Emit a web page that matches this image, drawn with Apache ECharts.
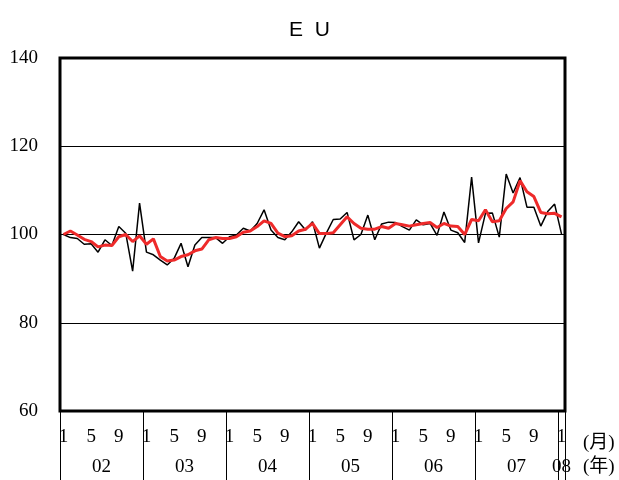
<!DOCTYPE html>
<html><head><meta charset="utf-8">
<script src="https://cdn.jsdelivr.net/npm/echarts@6/dist/echarts.min.js"></script>
<style>html,body{margin:0;padding:0;background:#fff}#c{width:619px;height:480px}</style>
</head><body><div id="c"></div>
<script>
const years = ['02','03','04','05','06','07','08'];
const monthTickLabels = [1, 5, 9];
const categories = [];
years.forEach(function (y, yi) {
  const n = yi === years.length - 1 ? 1 : 12;
  for (let m = 1; m <= n; m++) categories.push(y + '/' + m);
});
const monthly = [
  100.0, 99.3, 99.1, 97.8, 97.9, 96.0, 98.8, 97.5, 101.8, 100.3, 91.7, 107.1,
  96.0, 95.4, 94.2, 93.1, 94.6, 98.0, 92.7, 97.6, 99.3, 99.3, 99.3, 98.0,
  99.5, 99.9, 101.4, 100.8, 102.5, 105.6, 101.0, 99.3, 98.8, 100.6, 102.9, 101.0,
  102.9, 96.9, 100.3, 103.4, 103.5, 105.0, 98.8, 100.0, 104.4, 98.8, 102.4, 102.8,
  102.7, 101.8, 101.0, 103.3, 102.2, 102.5, 99.8, 105.1, 101.0, 100.4, 98.2, 113.0,
  98.1, 104.8, 104.9, 99.4, 113.7, 109.4, 112.9, 106.2, 106.2, 101.9, 105.2, 106.9,
  100.1
];
const trend = [
  100.0, 100.8, 99.9, 98.9, 98.4, 97.2, 97.6, 97.5, 99.5, 100.0, 98.4, 99.7,
  97.8, 99.0, 95.0, 94.0, 94.2, 95.0, 95.4, 96.3, 96.7, 98.8, 99.3, 99.1,
  99.1, 99.5, 100.5, 100.8, 101.8, 103.1, 102.5, 100.3, 99.5, 99.7, 100.8, 101.2,
  102.5, 100.2, 100.2, 100.4, 102.2, 104.0, 102.5, 101.4, 101.2, 101.2, 101.8, 101.4,
  102.5, 102.2, 101.9, 102.2, 102.5, 102.7, 101.6, 102.5, 101.9, 101.8, 100.0, 103.4,
  103.1, 105.6, 102.9, 103.1, 105.9, 107.4, 112.2, 109.7, 108.6, 105.0, 104.7, 104.8,
  104.0
];
const yMin = 60, yMax = 140, yStep = 20;

const serif = "'Liberation Serif', 'DejaVu Serif', 'Noto Sans CJK JP', serif";
const fs = 19;
const nameAxis = function (name, offset) {
  return {
    type: 'category', data: categories, boundaryGap: true, position: 'bottom', offset: offset,
    axisLine: {show: false}, axisTick: {show: false}, axisLabel: {show: false}, splitLine: {show: false},
    name: name, nameLocation: 'end', nameGap: 18,
    nameTextStyle: {fontSize: fs, color: '#000', fontFamily: serif, verticalAlign: 'middle'}
  };
};
const chart = echarts.init(document.getElementById('c'), null, {renderer: 'canvas'});
chart.setOption({
  animation: false,
  title: {
    text: 'E  U', left: 'center', top: 15,
    textStyle: {fontSize: 21, fontWeight: 'normal', color: '#000', fontFamily: "'Liberation Sans', 'Noto Sans', sans-serif"}
  },
  grid: {left: 60, right: 54, top: 58, bottom: 69, show: true, borderColor: '#000', borderWidth: 3, backgroundColor: 'transparent'},
  xAxis: [{
    type: 'category', data: categories, boundaryGap: true,
    axisLine: {show: false}, axisTick: {show: false}, splitLine: {show: false},
    axisLabel: {
      interval: 0, margin: 17, fontSize: fs, color: '#000', fontFamily: serif,
      formatter: function (v) { const m = +v.split('/')[1]; return monthTickLabels.indexOf(m) >= 0 ? String(m) : ''; }
    }
  }, {
    type: 'category', data: categories, boundaryGap: true, position: 'bottom',
    axisLine: {show: false}, splitLine: {show: false},
    axisTick: {show: true, interval: function (i) { return i % 12 === 0; }, length: 70, lineStyle: {color: '#000', width: 1}},
    axisLabel: {
      interval: 0, margin: 47, fontSize: fs, color: '#000', fontFamily: serif,
      formatter: function (v) {
        const p = v.split('/'); const m = +p[1];
        if (p[0] === years[years.length - 1]) return '{b|' + p[0] + '}';
        return m === 7 ? '{a|' + p[0] + '}' : '';
      },
      rich: {
        a: {fontSize: fs, fontFamily: serif, color: '#000', padding: [0, 7, 0, 0]},
        b: {fontSize: fs, fontFamily: serif, color: '#000'}
      }
    }
  }, nameAxis('(月)', 32), nameAxis('(年)', 56)],
  yAxis: {
    type: 'value', min: yMin, max: yMax, interval: yStep,
    axisLine: {show: false}, axisTick: {show: false},
    axisLabel: {margin: 22, fontSize: fs, color: '#000', fontFamily: serif},
    splitLine: {show: true, lineStyle: {color: '#000', width: 1}}
  },
  series: [{
    type: 'line', data: monthly, xAxisIndex: 0, symbol: 'none', z: 2,
    lineStyle: {color: '#000', width: 1.5}
  }, {
    type: 'line', data: trend, xAxisIndex: 0, symbol: 'none', z: 3,
    lineStyle: {color: '#ee2a2a', width: 3}
  }]
});
</script>
</body></html>
